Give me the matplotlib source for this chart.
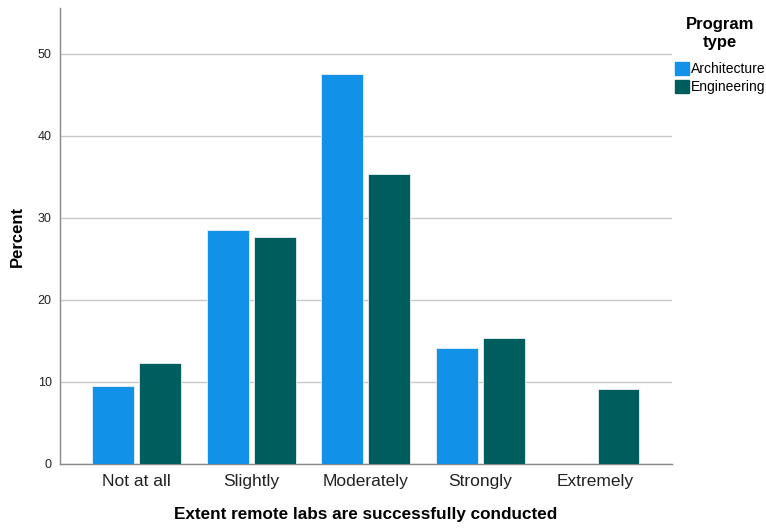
import matplotlib
matplotlib.use("Agg")
import matplotlib.pyplot as plt
import matplotlib.patches as mpatches
import numpy as np

plt.rcParams['font.family'] = ['Liberation Sans', 'DejaVu Sans']

# data
categories = ['Not at all', 'Slightly', 'Moderately', 'Strongly', 'Extremely']
architecture = [9.5, 28.5, 47.6, 14.2, 0.0]
engineering = [12.3, 27.7, 35.4, 15.4, 9.2]
series_names = ['Architecture', 'Engineering']
y_ticks = [0, 10, 20, 30, 40, 50]

colors = ['#1192E8', '#005D5D']

fig = plt.figure(figsize=(7.66, 5.29), dpi=100)
ax = fig.add_axes([0.0783, 0.1229, 0.7987, 0.862])

x = np.arange(len(categories))
width = 0.366
offset = 0.205
for vals, off, col in zip([architecture, engineering], [-offset, offset], colors):
    ax.bar(x + off, vals, width=width, color=col, edgecolor='#e8f0f4',
           linewidth=0.6, zorder=3)

ax.set_xlim(-0.67, 4.67)
ax.set_ylim(0, 55.6)
ax.set_xticks(x)
ax.set_xticklabels(categories, fontsize=12.5, color='#222222')
ax.set_yticks(y_ticks)
ax.set_yticklabels([str(t) for t in y_ticks], fontsize=9, color='#222222')
ax.tick_params(axis='both', length=0)
ax.tick_params(axis='x', pad=7)
ax.tick_params(axis='y', pad=6)

ax.yaxis.grid(True, color='#c8c8c8', linewidth=1.0, zorder=0)
ax.set_axisbelow(True)
for s in ['top', 'right']:
    ax.spines[s].set_visible(False)
for s in ['left', 'bottom']:
    ax.spines[s].set_color('#888888')
    ax.spines[s].set_linewidth(1.0)

ax.set_xlabel('Extent remote labs are successfully conducted', fontsize=12.3,
              fontweight='bold', labelpad=13)
ax.set_ylabel('Percent', fontsize=12, fontweight='bold', labelpad=9)

handles = [mpatches.Patch(color=c, label=n) for c, n in zip(colors, series_names)]
leg = fig.legend(handles=handles, title='Program\ntype', loc='upper left',
                 bbox_to_anchor=(0.879, 0.97), frameon=False, fontsize=10,
                 title_fontproperties={'weight': 'bold', 'size': 12},
                 handlelength=1.0, handleheight=1.0, handletextpad=0.2,
                 labelspacing=0.3, borderaxespad=0.0, borderpad=0.1)
leg.get_title().set_multialignment('center')
leg._legend_box.sep = 9

fig.savefig('out.png', dpi=100)
